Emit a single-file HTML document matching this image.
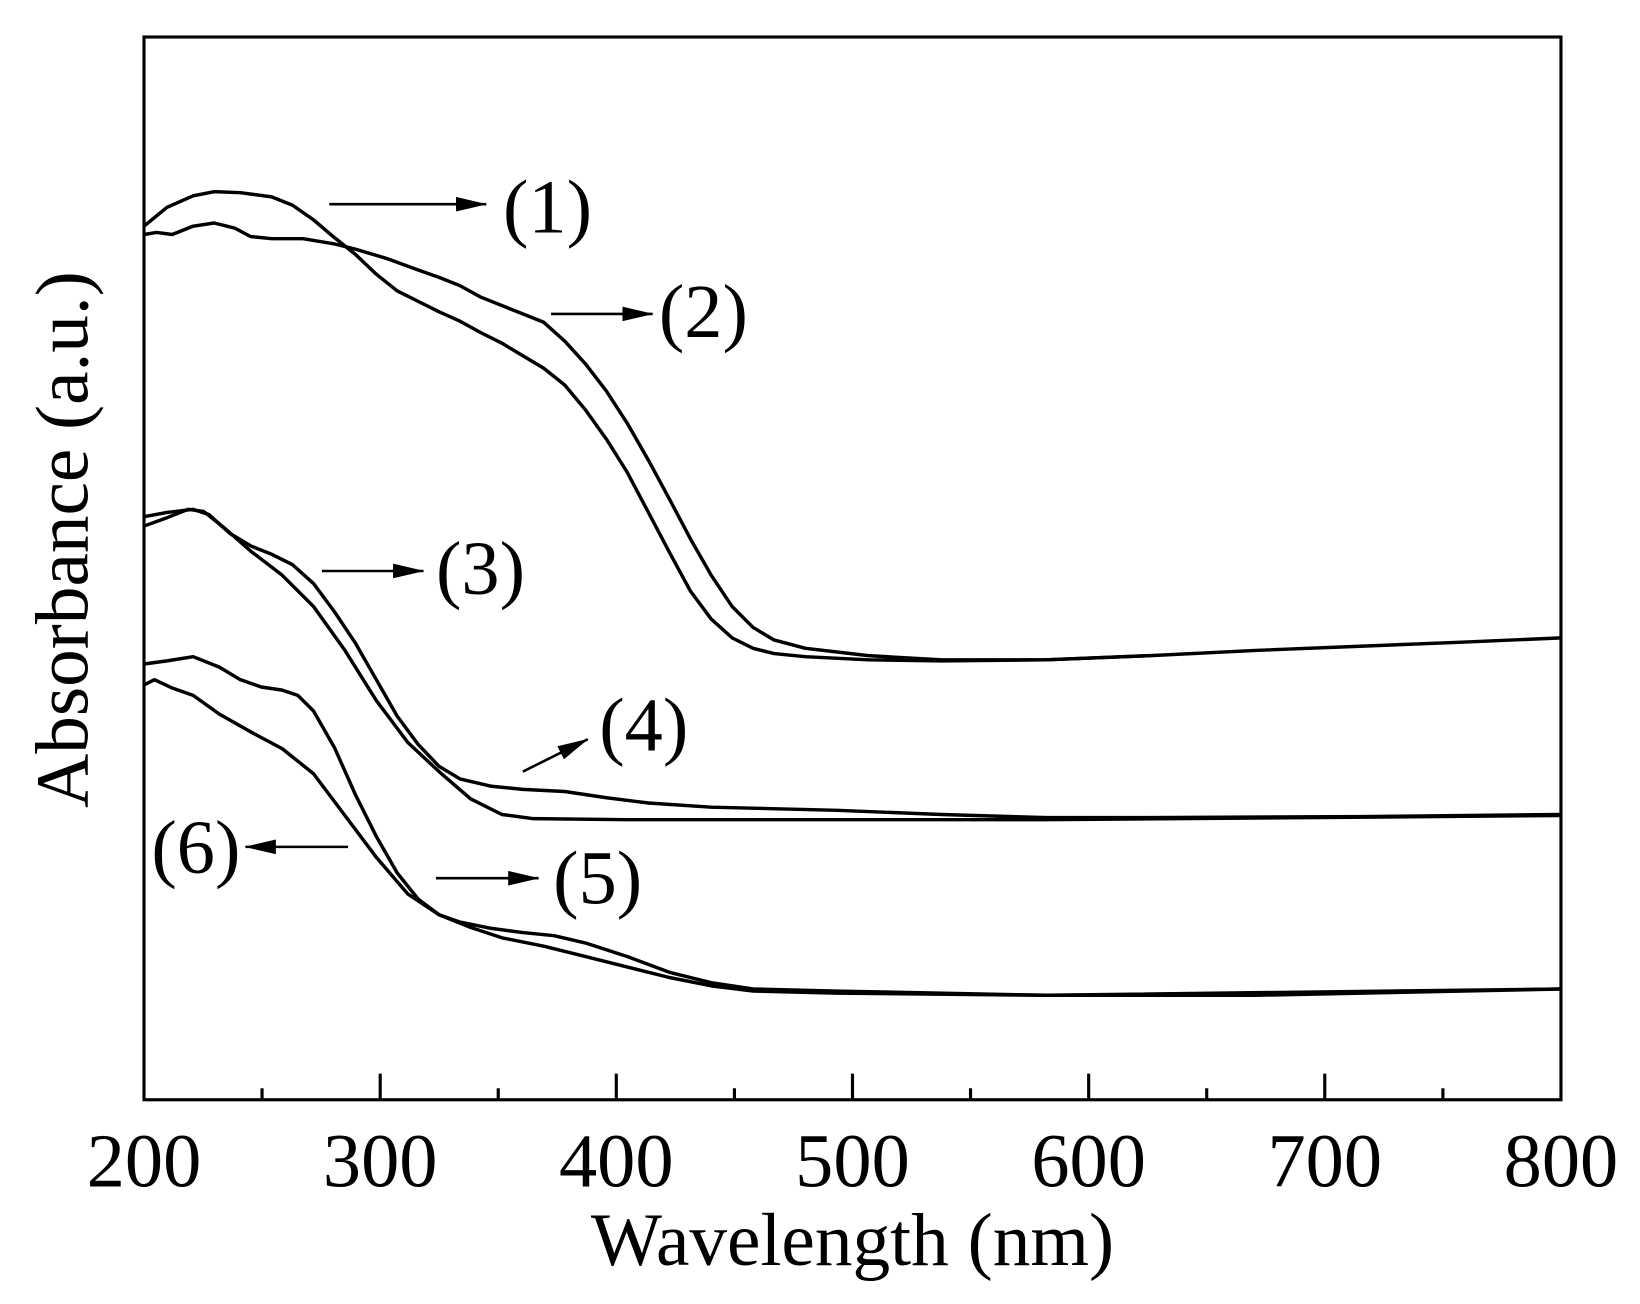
<!DOCTYPE html>
<html><head><style>html,body{margin:0;padding:0;background:#fff;}svg{display:block;}</style></head>
<body>
<svg width="1640" height="1304" viewBox="0 0 1640 1304" xmlns="http://www.w3.org/2000/svg">
<defs>
<marker id="ah2" viewBox="0 0 30 14" markerWidth="30" markerHeight="14" refX="29" refY="7" orient="auto" markerUnits="userSpaceOnUse"><path d="M0,0 L30,7 L0,14 Z" fill="#000"/></marker></defs>
<g transform="translate(144,37) scale(1.0465,1.045) translate(-138,-35)" font-family="Liberation Serif, serif" fill="#000">
<rect x="138" y="35" width="1354" height="1017" fill="none" stroke="#000" stroke-width="3"/>
<g stroke="#000" stroke-width="3">
<line x1="363.7" y1="1052" x2="363.7" y2="1027"/><line x1="589.3" y1="1052" x2="589.3" y2="1027"/>
<line x1="815" y1="1052" x2="815" y2="1027"/><line x1="1040.7" y1="1052" x2="1040.7" y2="1027"/>
<line x1="1266.3" y1="1052" x2="1266.3" y2="1027"/>
<line x1="250.8" y1="1052" x2="250.8" y2="1041"/><line x1="476.5" y1="1052" x2="476.5" y2="1041"/>
<line x1="702.2" y1="1052" x2="702.2" y2="1041"/><line x1="927.8" y1="1052" x2="927.8" y2="1041"/>
<line x1="1153.5" y1="1052" x2="1153.5" y2="1041"/><line x1="1379.2" y1="1052" x2="1379.2" y2="1041"/>
</g>
<g font-size="73" text-anchor="middle">
<text x="138" y="1135">200</text><text x="363.7" y="1135">300</text><text x="589.3" y="1135">400</text>
<text x="815" y="1135">500</text><text x="1040.7" y="1135">600</text><text x="1266.3" y="1135">700</text><text x="1492" y="1135">800</text>
</g>
<text x="815" y="1210" font-size="72" text-anchor="middle">Wavelength (nm)</text>
<text transform="translate(84,516) rotate(-90)" font-size="72" text-anchor="middle">Absorbance (a.u.)</text>
<g fill="none" stroke="#000" stroke-width="3.3" stroke-linejoin="round">
<polyline points="138,216 160,198 185,187 205,183 230,184 260,188 280,196 300,210 320,227 340,243 360,262 380,278 400,288 420,298 440,307 460,318 480,328 500,340 520,352 540,368 560,392 580,420 600,452 620,490 640,528 660,565 680,592 700,610 720,620 740,625 770,628 830,631 900,632 1000,631 1100,627 1200,622 1300,618 1400,614 1492,610"/>
<polyline points="138,224 150,222 165,224 185,216 205,213 225,218 240,226 260,228 290,228 320,233 340,238 370,247 400,258 420,265 440,273 460,284 490,296 520,308 540,326 560,348 580,374 600,405 620,440 640,477 660,515 680,550 700,580 720,600 740,612 770,620 830,627 900,631 1000,631 1100,627"/>
<polyline points="138,494 160,490 185,487 200,492 220,510 240,522 260,530 280,540 300,558 320,585 340,615 360,650 380,685 400,712 420,733 440,745 470,752 500,755 540,757 580,763 620,768 680,772 800,775 900,779 1000,782 1100,782 1300,781 1492,779"/>
<polyline points="138,503 160,495 180,487 195,489 215,505 240,527 270,550 300,580 330,622 360,670 390,710 420,738 450,764 480,779 510,783 600,784 800,784 1000,784 1492,780"/>
<polyline points="138,635 160,632 185,628 210,638 230,650 250,657 270,660 285,665 300,680 320,715 340,760 360,800 380,835 400,860 420,875 440,882 470,888 500,892 530,895 560,902 600,915 640,930 680,940 720,946 800,948 1000,952 1200,952 1492,946"/>
<polyline points="138,655 148,650 165,658 185,665 210,683 240,700 270,716 300,740 330,780 360,820 390,855 420,875 450,887 480,897 520,905 560,915 600,925 640,935 680,943 720,948 800,950 1000,952 1492,946"/>
</g>
<g stroke="#000" stroke-width="2.5" fill="none">
<line x1="315" y1="195" x2="465" y2="195" marker-end="url(#ah2)"/>
<line x1="527" y1="300" x2="624" y2="300" marker-end="url(#ah2)"/>
<line x1="308" y1="546" x2="405" y2="546" marker-end="url(#ah2)"/>
<line x1="500" y1="738" x2="562" y2="707" marker-end="url(#ah2)"/>
<line x1="333" y1="810" x2="235" y2="810" marker-end="url(#ah2)"/>
<line x1="417" y1="840" x2="515" y2="840" marker-end="url(#ah2)"/>
</g>
<g font-size="73">
<text x="481" y="222">(1)</text><text x="630" y="322">(2)</text><text x="417" y="568">(3)</text>
<text x="573" y="718">(4)</text><text x="145" y="835">(6)</text><text x="529" y="864">(5)</text>
</g>
</g>
</svg>
</body></html>
